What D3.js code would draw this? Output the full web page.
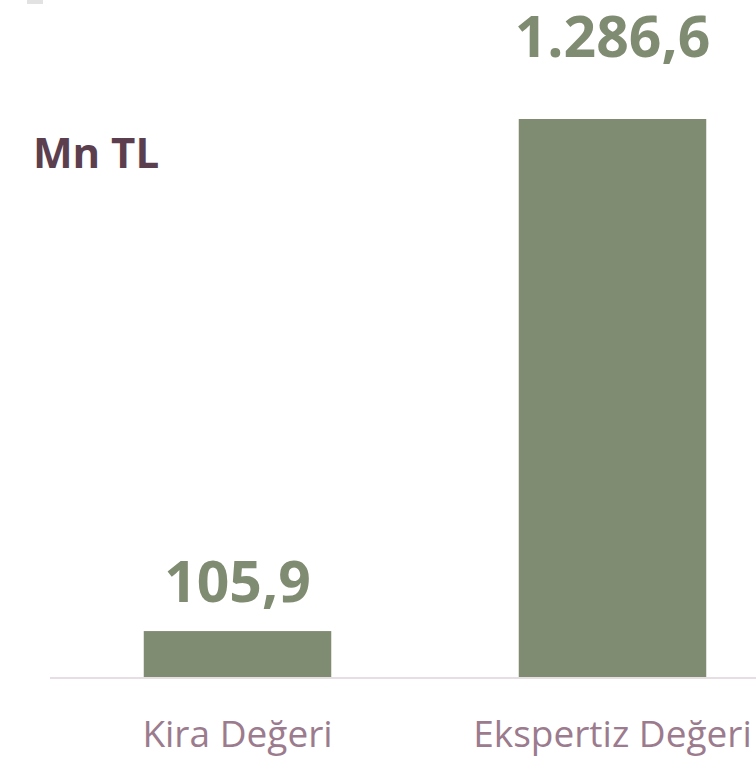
<!DOCTYPE html>
<html>
<head>
<meta charset="utf-8">
<script src="https://cdn.jsdelivr.net/npm/d3@7"></script>
<style>
  body { margin: 0; background: #fff; }
  svg { display: block; font-family: "Open Sans", sans-serif; }
</style>
</head>
<body>
<div id="chart"></div>
<script>
var svgWidth = 756;
var svgHeight = 758;

// data
var categories = ["Kira Değeri", "Ekspertiz Değeri"];
var values = [105.9, 1286.6];
var valueLabels = ["105,9", "1.286,6"];
var unitLabel = "Mn TL";

var baseY = 677;

var svg = d3.select("#chart")
  .append("svg")
  .attr("width", svgWidth)
  .attr("height", svgHeight);

// small grey mark in the corner
svg.append("rect")
  .attr("x", 27).attr("y", 0)
  .attr("width", 16).attr("height", 4)
  .attr("fill", "#e2e2e2");

var x = d3.scaleBand()
  .domain(categories)
  .range([50, 800])
  .paddingInner(0.5)
  .paddingOuter(0.25);

var y = d3.scaleLinear()
  .domain([0, 1286.6])
  .range([baseY, 119]);

var data = categories.map((c, i) => ({ cat: c, val: values[i], lab: valueLabels[i] }));

svg.selectAll("rect.bar")
  .data(data)
  .enter()
  .append("rect")
  .attr("class", "bar")
  .attr("x", d => x(d.cat))
  .attr("y", d => y(d.val))
  .attr("width", x.bandwidth())
  .attr("height", d => baseY - y(d.val))
  .attr("fill", "#808c72");

// baseline
svg.append("line")
  .attr("x1", 50).attr("x2", 756)
  .attr("y1", baseY + 1).attr("y2", baseY + 1)
  .attr("stroke", "#e6dee3")
  .attr("stroke-width", 2);

// value labels (the tall bar's label sits higher, as in the original)
svg.selectAll("text.val")
  .data(data)
  .enter()
  .append("text")
  .attr("class", "val")
  .attr("x", d => x(d.cat) + x.bandwidth() / 2)
  .attr("y", d => y(d.val) - (d.val > 1000 ? 62 : 29))
  .attr("text-anchor", "middle")
  .style("font-size", "57px")
  .style("font-weight", "bold")
  .attr("fill", "#808c72")
  .text(d => d.lab);

// category labels
svg.selectAll("text.cat")
  .data(data)
  .enter()
  .append("text")
  .attr("class", "cat")
  .attr("x", d => x(d.cat) + x.bandwidth() / 2)
  .attr("y", 747)
  .attr("text-anchor", "middle")
  .style("font-size", "37px")
  .attr("fill", "#9b7b8d")
  .text(d => d.cat);

// unit
svg.append("text")
  .attr("x", 33)
  .attr("y", 168)
  .style("font-size", "42px")
  .style("font-weight", "bold")
  .attr("fill", "#5b3f4f")
  .text(unitLabel);
</script>
</body>
</html>
